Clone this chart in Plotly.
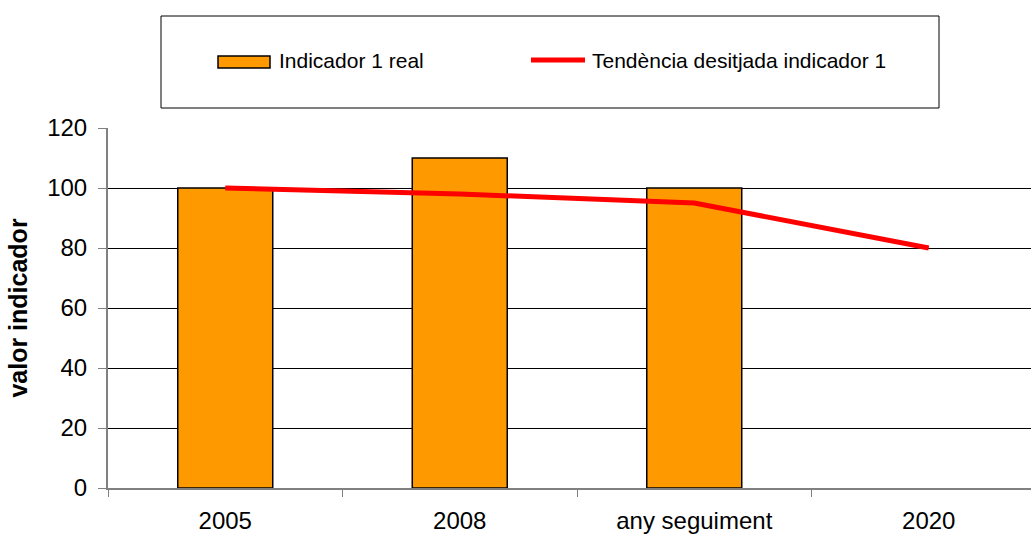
import plotly.graph_objects as go

# Chart data
categories = ["2005", "2008", "any seguiment", "2020"]
real_values = [100, 110, 100, None]
trend_values = [100, 98, 95, 80]
y_ticks = [0, 20, 40, 60, 80, 100, 120]

BAR_NAME = "Indicador 1 real"
LINE_NAME = "Tendència desitjada indicador 1"
BAR_COLOR = "#FF9900"
LINE_COLOR = "#FF0000"

FONT = "Liberation Sans, Arial, sans-serif"

W, H = 1031, 534
L, R, T, B = 108, 0, 128, 46
PW, PH = W - L - R, H - T - B


def px(x):
    """Pixel column -> paper x."""
    return (x - L) / PW


def py(y):
    """Pixel row -> paper y."""
    return (H - B - y) / PH


fig = go.Figure()

fig.add_trace(go.Bar(
    x=categories,
    y=real_values,
    name=BAR_NAME,
    marker=dict(color=BAR_COLOR, line=dict(color="#000000", width=1.5)),
    width=0.405,
))

fig.add_trace(go.Scatter(
    x=categories,
    y=trend_values,
    mode="lines",
    name=LINE_NAME,
    line=dict(color=LINE_COLOR, width=5),
))

fig.update_layout(
    width=W,
    height=H,
    margin=dict(l=L, r=R, t=T, b=B),
    paper_bgcolor="white",
    plot_bgcolor="white",
    font=dict(family=FONT, size=21, color="#000000"),
    showlegend=False,
)

# Legend panel drawn above the plot area
shapes = [
    dict(type="rect", xref="paper", yref="paper",
         x0=px(161), x1=px(939), y0=py(108), y1=py(16),
         line=dict(color="#000000", width=1), fillcolor="white"),
    dict(type="rect", xref="paper", yref="paper",
         x0=px(218), x1=px(270), y0=py(68), y1=py(56),
         line=dict(color="#000000", width=1.5), fillcolor=BAR_COLOR),
    dict(type="line", xref="paper", yref="paper",
         x0=px(531), x1=px(585), y0=py(60), y1=py(60),
         line=dict(color=LINE_COLOR, width=5)),
]
for s in shapes:
    fig.add_shape(**s)

fig.add_annotation(xref="paper", yref="paper", x=px(277), y=py(60),
                   text=BAR_NAME, showarrow=False, xanchor="left", yanchor="middle",
                   font=dict(family=FONT, size=21))
fig.add_annotation(xref="paper", yref="paper", x=px(590), y=py(60),
                   text=LINE_NAME, showarrow=False, xanchor="left", yanchor="middle",
                   font=dict(family=FONT, size=21))

fig.update_xaxes(
    type="category",
    range=[-0.5, -0.5 + PW / 234.5],
    showgrid=False,
    showline=True, linecolor="#808080", linewidth=2,
    ticks="outside", tickson="boundaries", ticklen=7, tickcolor="#808080",
    tickfont=dict(family=FONT, size=24),
    ticklabelstandoff=10,
)

fig.update_yaxes(
    range=[0, 120],
    tickvals=y_ticks,
    showgrid=True, gridcolor="#000000", gridwidth=1,
    showline=True, linecolor="#808080", linewidth=2,
    ticks="outside", ticklen=8, tickcolor="#808080",
    tickfont=dict(family=FONT, size=24),
    ticklabelstandoff=6,
    zeroline=False,
    title=dict(text="<b>valor indicador</b>", font=dict(family=FONT, size=25), standoff=12),
)

fig.write_html("out.html")
